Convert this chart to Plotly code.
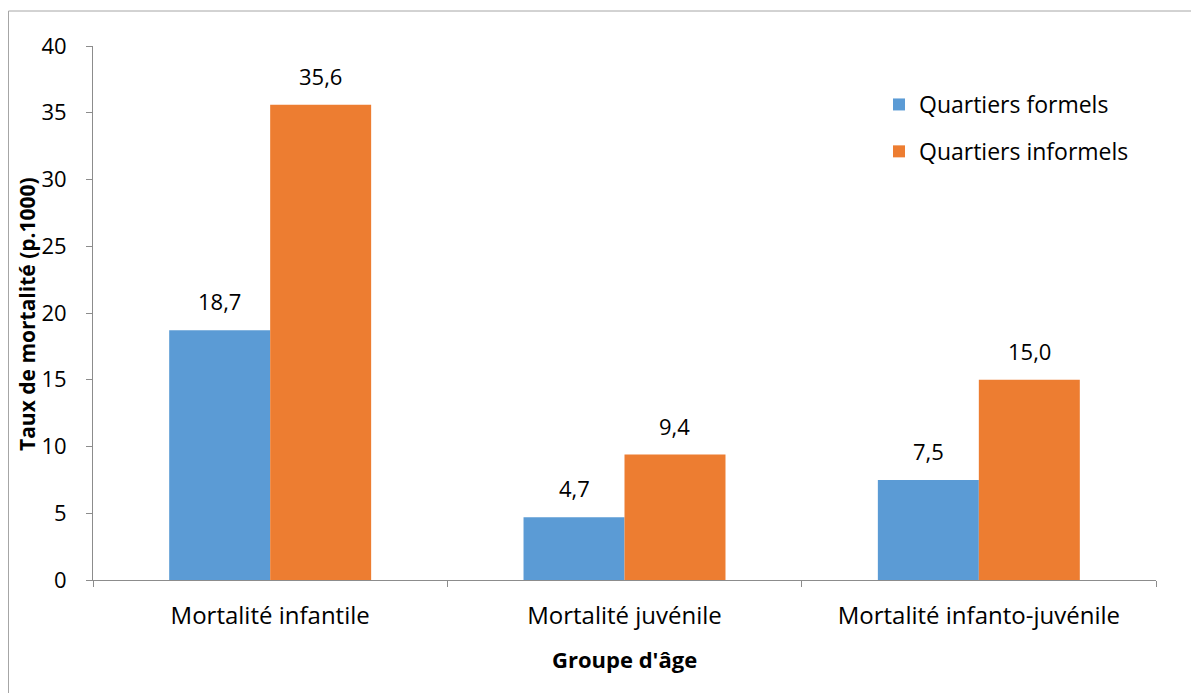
import plotly.graph_objects as go

categories = ["Mortalité infantile", "Mortalité juvénile", "Mortalité infanto-juvénile"]
formels = [18.7, 4.7, 7.5]
informels = [35.6, 9.4, 15.0]
series_names = ["Quartiers formels", "Quartiers informels"]
series_colors = ["#5B9BD5", "#ED7D31"]
y_ticks = [0, 5, 10, 15, 20, 25, 30, 35, 40]

FONT = "Open Sans"
# page body has an 8px margin: figure origin at (8, 8) in the window
OFF = 8
PAGE_W, PAGE_H = 1199, 693
W, H = PAGE_W - OFF, PAGE_H - OFF
PLOT_L, PLOT_R, PLOT_T, PLOT_B = 93, 1156, 46, 580  # page pixels
L, R, T, B = PLOT_L - OFF, PAGE_W - PLOT_R, PLOT_T - OFF, PAGE_H - PLOT_B
pw, ph = PLOT_R - PLOT_L, PLOT_B - PLOT_T
BARGAP = 0.43

def px_x(px):
    return (px - PLOT_L) / pw

def px_y(py):
    return (PLOT_B - py) / ph

fig = go.Figure()
all_series = [formels, informels]
for name, vals, col, grp in zip(series_names, all_series, series_colors, ["a", "b"]):
    fig.add_trace(go.Bar(
        x=categories, y=vals, name=name,
        marker=dict(color=col, line=dict(width=0)),
        legendgroup=grp,
    ))

# data labels placed on the bars via the axes
bar_w = pw / len(categories) * (1 - BARGAP) / len(all_series)
annotations = []
for k, vals in enumerate(all_series):
    shift = (k - (len(all_series) - 1) / 2) * bar_w
    for c, v in zip(categories, vals):
        annotations.append(dict(
            x=c, y=v, xref="x", yref="y", text=f"{v:.1f}".replace(".", ","),
            showarrow=False, xanchor="center", yanchor="bottom",
            xshift=shift, yshift=12,
            font=dict(family=FONT, size=22, color="#000000"),
        ))

annotations += [
    dict(text="<b>Taux de mortalité (p.1000)</b>", xref="paper", yref="paper",
         x=px_x(27), y=px_y(314), textangle=-90, showarrow=False,
         xanchor="center", yanchor="middle", font=dict(family=FONT, size=21)),
    dict(text="<b>Groupe d'âge</b>", xref="paper", yref="paper",
         x=px_x(624), y=px_y(659), showarrow=False,
         xanchor="center", yanchor="middle", font=dict(family=FONT, size=22)),
]

fig.update_layout(
    width=W, height=H,
    margin=dict(l=L, r=R, t=T, b=B, autoexpand=False),
    paper_bgcolor="white", plot_bgcolor="white",
    barmode="group", bargap=BARGAP, bargroupgap=0,
    separators=", ",
    font=dict(family=FONT, size=23, color="#000000"),
    showlegend=True,
    legend=dict(
        x=px_x(879), y=px_y(83), xanchor="left", yanchor="top",
        bgcolor="rgba(0,0,0,0)", font=dict(family=FONT, size=23),
        traceorder="grouped", tracegroupgap=14, itemwidth=30,
    ),
    xaxis=dict(
        type="category", showline=True, linecolor="#8c8c8c", linewidth=1,
        ticks="outside", tickson="boundaries", ticklen=6, tickcolor="#8c8c8c",
        showgrid=False, zeroline=False, ticklabelstandoff=14,
        tickfont=dict(family=FONT, size=24),
    ),
    yaxis=dict(
        range=[0, 40], tickvals=y_ticks, showline=True, linecolor="#8c8c8c", linewidth=1,
        ticks="outside", ticklen=6, tickcolor="#8c8c8c", showgrid=False, zeroline=False,
        ticklabelstandoff=15, tickfont=dict(family=FONT, size=22),
    ),
    shapes=[dict(
        type="rect", xref="paper", yref="paper",
        x0=px_x(8.5), x1=px_x(1400), y0=px_y(900), y1=px_y(11),
        line=dict(color="#a6a6a6", width=1), fillcolor="rgba(0,0,0,0)", layer="below",
    )],
    annotations=annotations,
)

fig.write_html("out.html")
